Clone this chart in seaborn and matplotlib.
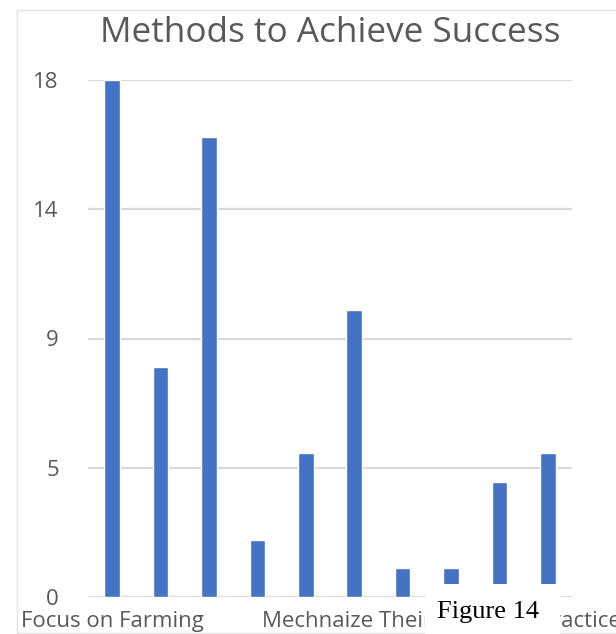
import matplotlib
matplotlib.use("Agg")
import matplotlib.pyplot as plt
from matplotlib.patches import Rectangle
from matplotlib.lines import Line2D
from matplotlib.transforms import ScaledTranslation
import numpy as np
import pandas as pd
import seaborn as sns

# Survey responses: methods farmers use to achieve success
methods = [
    "Focus on Farming",
    "Seek Education",
    "Save Money",
    "Work Hard",
    "Get Loans",
    "Join Cooperatives",
    "Use Fertilizer",
    "Mechnaize Their Cropping Practice",
    "Diversify Crops",
    "Improve Their Practice",
]
responses = [18, 8, 16, 2, 5, 10, 1, 1, 4, 5]

# Value axis: major unit 4.5, labels shown with no decimals
y_ticks = [0, 4.5, 9, 13.5, 18]
y_tick_labels = ["0", "5", "9", "14", "18"]
label_interval = 7

df = pd.DataFrame({"method": methods, "responses": responses})

sns.set_theme(style="white")
plt.rcParams["font.family"] = ["Open Sans", "DejaVu Sans"]

W, H = 616, 634
fig = plt.figure(figsize=(W / 100, H / 100), dpi=100)
ax = fig.add_axes([88 / W, (H - 597) / H, 484 / W, 517 / H])

sns.barplot(data=df, x="method", y="responses", color="#4472C4",
            width=0.32, saturation=1, ax=ax, zorder=3)

ax.set_ylim(0, 18)
ax.set_xlim(-0.5, len(methods) - 0.5)
ax.set_yticks(y_ticks)
ax.set_yticklabels(y_tick_labels)
ax.set_xticks(range(len(methods)))
ax.set_xticklabels([m if i % label_interval == 0 else "" for i, m in enumerate(methods)])

grid_color = "#D9D9D9"
text_color = "#595959"
for yv in y_ticks:
    ax.axhline(yv, color=grid_color, lw=1.6, zorder=1)

for s in ax.spines.values():
    s.set_visible(False)

ax.tick_params(axis="y", length=0, pad=21, labelsize=16, labelcolor=text_color)
ax.tick_params(axis="x", length=0, pad=10, labelsize=16, labelcolor=text_color)
ax.set_xlabel("")
ax.set_ylabel("")

# Long category label is nudged left so it stays inside the chart area
long_label = ax.get_xticklabels()[7]
long_label.set_transform(long_label.get_transform()
                         + ScaledTranslation(-10 / 100, 0, fig.dpi_scale_trans))

fig.text(330 / W, 1 - 33 / H, "Methods to Achieve Success", ha="center",
         va="center", fontsize=25.3, color=text_color)

# Chart frame edges
frame_color = "#E3E3E3"
fig.add_artist(Line2D([17 / W, 17 / W], [0, 1 - 10 / H], color=frame_color,
                      lw=1.0, transform=fig.transFigure))
fig.add_artist(Line2D([17 / W, 1], [1 - 10 / H, 1 - 10 / H], color=frame_color,
                      lw=1.0, transform=fig.transFigure))
fig.add_artist(Line2D([17 / W, 1], [1.5 / H, 1.5 / H], color=frame_color,
                      lw=1.0, transform=fig.transFigure))

# Caption box
fig.add_artist(Rectangle((425 / W, 0), 135 / W, 50 / H, transform=fig.transFigure,
                         facecolor="white", edgecolor="none", zorder=10))
fig.text(437 / W, 1 - 618 / H, "Figure 14", ha="left", va="baseline",
         fontsize=19, color="black", family=["Liberation Serif"], zorder=11)

fig.savefig("out.png", dpi=100)
